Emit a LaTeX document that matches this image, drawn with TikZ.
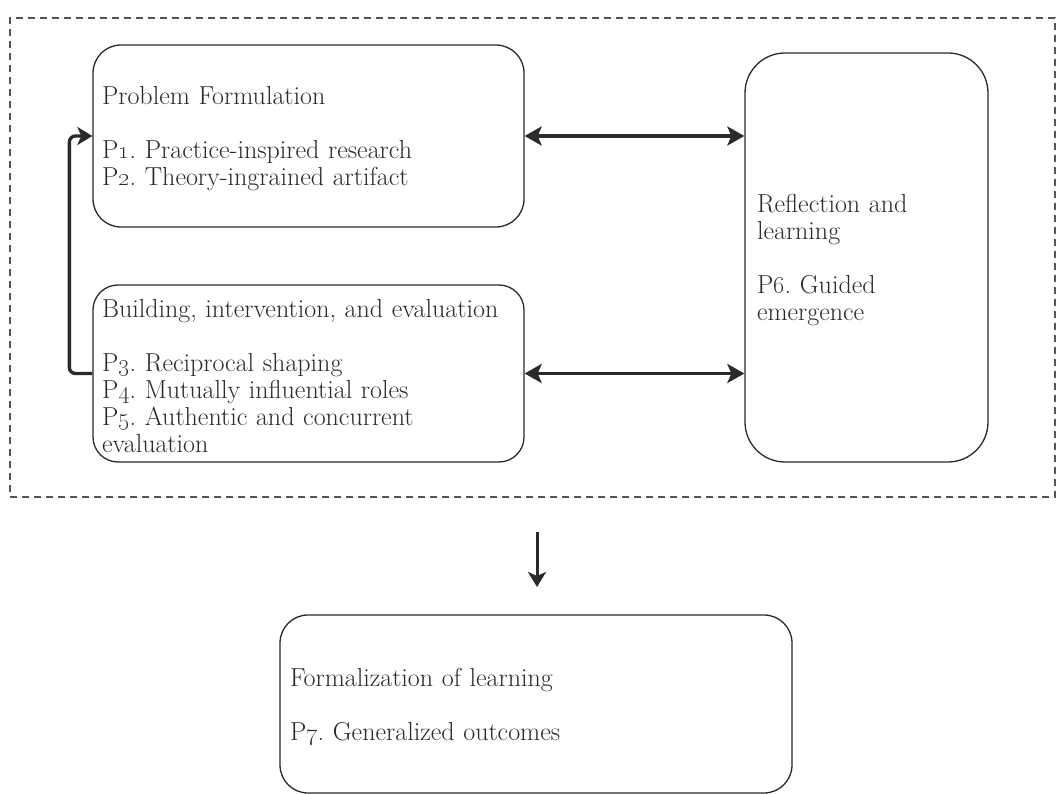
\documentclass[tikz,border=0pt]{standalone}
\usetikzlibrary{arrows.meta}
\definecolor{ink}{HTML}{2A2A2A}
\definecolor{framegray}{HTML}{555555}
\newcommand{\pnum}[1]{P\oldstylenums{#1}.}
% extra room above the first line of each card
\newcommand{\topgap}{\rule{0pt}{24pt}}
\frenchspacing
\tikzset{
  card/.style={draw=ink, line width=1.3pt, fill=white, align=left, text=ink,
    font=\fontsize{26}{27}\selectfont, inner ysep=0pt, anchor=center},
  twoway/.style={draw=ink, line width=3.6pt,
    {Stealth[length=17pt,width=19pt,inset=4pt]}-{Stealth[length=17pt,width=19pt,inset=4pt]}},
  oneway/.style={draw=ink, line width=3.3pt, -{Stealth[length=15pt,width=18pt,inset=4pt]}},
  stageframe/.style={draw=framegray, line width=1.6pt, dash pattern=on 7pt off 5pt,
    minimum width=1045pt, minimum height=479pt, inner sep=0pt}
}
\begin{document}
\begin{tikzpicture}[x=1pt,y=-1pt]
\useasboundingbox[fill=white] (0,0) rectangle (1057,794);

% dashed frame around the iterative stages
\node[stageframe] (frame) at (532.5,257.5) {};

% stage boxes
\node[card, rounded corners=28pt, inner xsep=9pt, text width=413pt,
      minimum width=431pt, minimum height=182pt] (pf) at (308.5,136)
  {\topgap Problem Formulation\\[27pt]
   \pnum{1} Practice-inspired research\\
   \pnum{2} Theory-ingrained artifact};

\node[card, rounded corners=25pt, inner xsep=9pt, text width=413pt,
      minimum width=431pt, minimum height=177pt] (bie) at (308.5,373.5)
  {\topgap Building, intervention, and evaluation\\[27pt]
   \pnum{3} Reciprocal shaping\\
   \pnum{4} Mutually influential roles\\
   \pnum{5} Authentic and concurrent\\
   evaluation};

\node[card, rounded corners=40pt, inner xsep=12pt, text width=219pt,
      minimum width=243pt, minimum height=409pt] (rl) at (866.5,257.5)
  {\topgap Reflection and\\
   learning\\[27pt]
   \pnum{6} Guided\\
   emergence};

\node[card, rounded corners=28pt, inner xsep=10pt, text width=492pt,
      minimum width=512pt, minimum height=178pt] (fl) at (536,704)
  {\topgap Formalization of learning\\[27pt]
   \pnum{7} Generalized outcomes};

% connectors
\draw[twoway] (pf.east) -- (pf.east -| rl.west);
\draw[twoway] (bie.east) -- (bie.east -| rl.west);
\draw[oneway, rounded corners=6pt] (bie.west) -- ++(-23,0) |- (pf.west);

\coordinate (down0) at (537,532);
\coordinate (down1) at (537,587);
\draw[oneway, line width=3pt] (down0) -- (down1);
\end{tikzpicture}
\end{document}
